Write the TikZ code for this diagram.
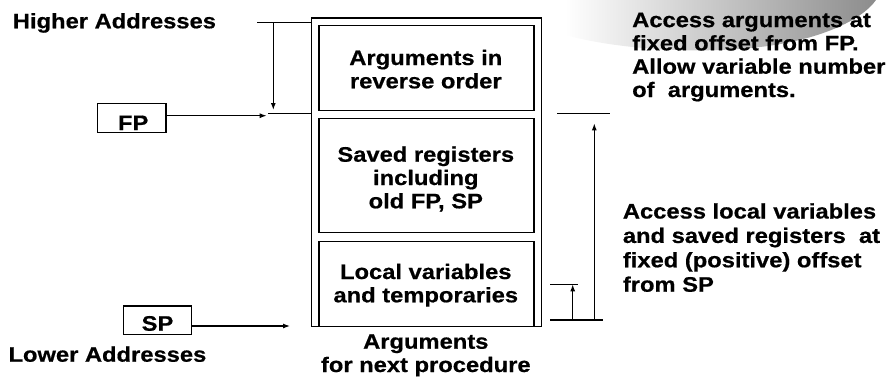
\documentclass[tikz,border=0pt]{standalone}
\usepackage{fontspec}
\setmainfont[FakeStretch=1.13,BoldFeatures={FakeBold=0.6}]{Liberation Sans}
\usetikzlibrary{arrows.meta}
\begin{document}
\begin{tikzpicture}[x=1pt,y=-1pt,
  ln/.style={line width=1.2pt},
  arr/.style={line width=1.2pt,-{Latex[length=7pt,width=5pt]}},
  boxx/.style={draw,line width=1.2pt,inner sep=0pt,anchor=north west},
  lbl/.style={font=\bfseries\fontsize{21}{23.3}\selectfont,inner sep=0pt},
  ctext/.style={lbl,align=center,anchor=base},
  ltext/.style={lbl,align=left,anchor=base west}]
\useasboundingbox (0,0) rectangle (894,381);
% grey decoration
\shade[left color=white,right color=black!45]
  (565,0) -- (876,0) .. controls (862,20) and (820,40) .. (760,47)
  .. controls (700,54) and (620,50) .. (565,35) -- cycle;
% stack frame
\node[boxx,minimum width=229.7pt,minimum height=308.7pt] (frame) at (311,17.3) {};
\node[boxx,minimum width=215pt,minimum height=85pt] (box1) at (318.3,25) {};
\node[boxx,minimum width=215pt,minimum height=114pt] (box2) at (318.3,118) {};
\node[boxx,minimum width=215pt,minimum height=85pt] (box3) at (318.3,241) {};
% base anchor = baseline of the last line
\node[ctext] (t1) at (425.8,88.3) {Arguments in\\reverse order};
\node[ctext] (t2) at (425.8,208.3) {Saved registers\\including\\old FP, SP};
\node[ctext] (t3) at (425.8,302.3) {Local variables\\and temporaries};
\node[ctext] (t4) at (425.8,372) {Arguments\\for next procedure};
% left labels
\node[ltext] (hi) at (12.7,28.3) {Higher Addresses};
\node[ltext] (lo) at (8.3,361.7) {Lower Addresses};
\node[draw,line width=1.2pt,lbl,minimum width=68.7pt,minimum height=29pt,
  text height=24.5pt,text depth=0pt] (FP) at (131.7,117.8) {\hspace{3pt}FP};
\node[draw,line width=1.2pt,lbl,minimum width=68.4pt,minimum height=28.3pt,
  text height=21pt,text depth=0pt] (SP) at (157.5,320.2) {SP\hspace{3pt}};
% left connectors
\coordinate (hiL) at (257.3,22.3);
\coordinate (dnTop) at (273.3,22.3);
\coordinate (dnEnd) at (273.3,110);
\coordinate (fpL) at (268,113.3);
\coordinate (fpTip) at (266.7,115.7);
\coordinate (spTip) at (290,326);
\draw[ln] (hiL) -- (hiL -| frame.west);
\draw[arr] (dnTop) -- (dnEnd);
\draw[ln] (fpL) -- (fpL -| frame.west);
\draw[arr] (FP.east |- fpTip) -- (fpTip);
\draw[arr] (SP.east |- spTip) -- (spTip);
% right connectors
\coordinate (rTopL) at (557.3,113.3);
\coordinate (rTopR) at (610,113.3);
\coordinate (rBotL) at (550,320);
\coordinate (rBotR) at (602.7,320);
\coordinate (rMidL) at (550,284.3);
\coordinate (rMidR) at (578.3,284.3);
\coordinate (longB) at (594.3,320);
\coordinate (longT) at (594.3,123.3);
\coordinate (shortB) at (572.7,320);
\coordinate (shortT) at (572.7,284.3);
\draw[ln] (rTopL) -- (rTopR);
\draw[ln] (rBotL) -- (rBotR);
\draw[ln] (rMidL) -- (rMidR);
\draw[arr] (longB) -- (longT);
\draw[arr] (shortB) -- (shortT);
% right texts
\node[ltext] (r1) at (632,97) {Access arguments at\\fixed offset from FP.\\Allow variable number\\of~ arguments.};
\node[ltext,font=\bfseries\fontsize{21}{24.4}\selectfont] (r2) at (622.7,291.7) {Access local variables\\and saved registers~ at\\fixed (positive) offset\\from SP};
\end{tikzpicture}
\end{document}
